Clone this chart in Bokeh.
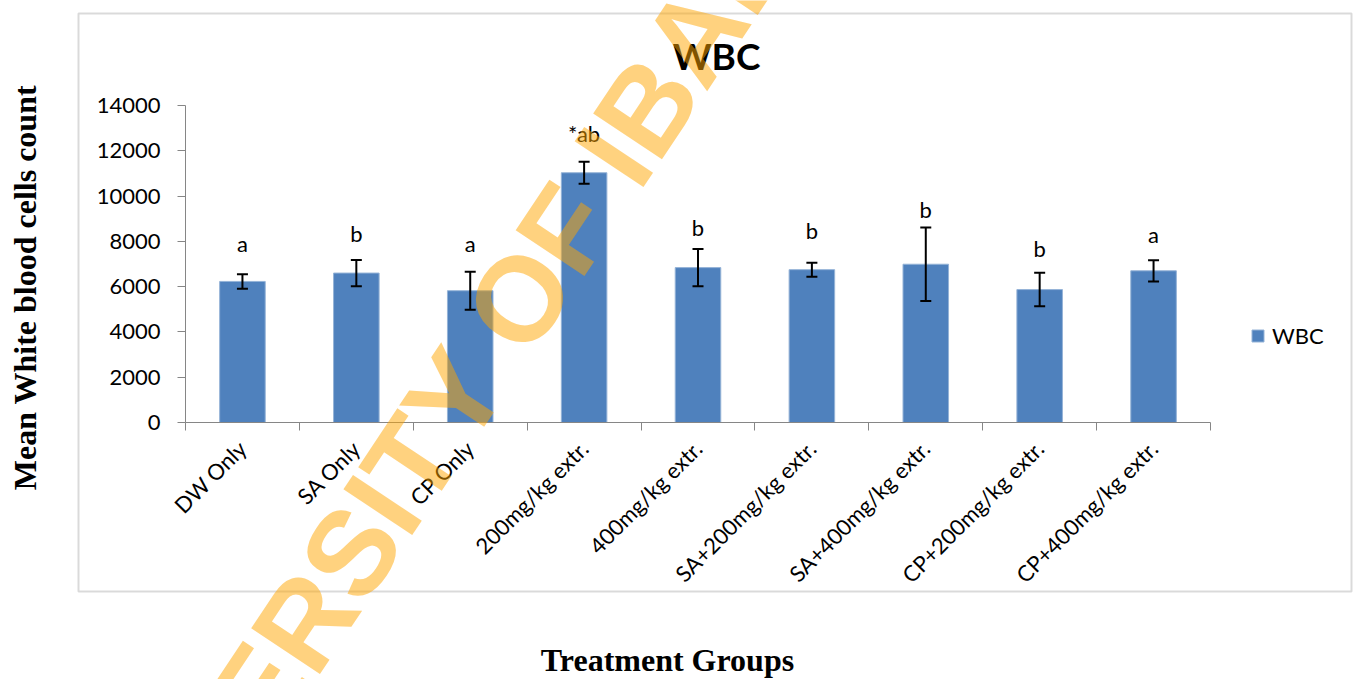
from math import pi, radians

from bokeh.plotting import figure
from bokeh.models import (Range1d, LinearAxis, FixedTicker,
                          ColumnDataSource, Whisker, TeeHead, Label, BoxAnnotation,
                          Legend, LegendItem)
from bokeh.core.properties import value
from bokeh.embed import file_html
from bokeh.resources import INLINE

# ---------------- data ----------------
groups = ["DW Only", "SA Only", "CP Only", "200mg/kg extr.", "400mg/kg extr.",
          "SA+200mg/kg extr.", "SA+400mg/kg extr.", "CP+200mg/kg extr.", "CP+400mg/kg extr."]
wbc_mean = [6230, 6600, 5820, 11030, 6840, 6750, 6990, 5870, 6700]
wbc_err = [320, 580, 840, 490, 820, 310, 1620, 740, 470]
letters = ["a", "b", "a", "*ab", "b", "b", "b", "b", "a"]
letter_y = [7900, 8350, 7900, 12750, 8600, 8500, 9400, 7680, 8300]
y_ticks = [0, 2000, 4000, 6000, 8000, 10000, 12000, 14000]

series_name = "WBC"
chart_title = "WBC"
y_title = "Mean White blood cells count"
x_title = "Treatment Groups"
watermark = "UNIVERSITY OF IBADAN"

# ---------------- style / layout ----------------
W, H = 1359, 679
BAR = "#4F81BD"
AX = "#868686"
SANS = "Lato"
SERIF = "Liberation Serif"
FS = "22px"
LEFT, RIGHT, TOP, BOTTOM = 185, 14, 105, 257     # frame borders (px)
AXIS_END_PX = 1210                               # where the category axis stops

n = len(groups)
centers = [i + 0.5 for i in range(n)]   # category slots on a 0..n axis
x_end = n * (W - LEFT - RIGHT) / (AXIS_END_PX - LEFT)   # frame extends past the axis for the legend

src = ColumnDataSource(dict(
    x=centers,
    group=groups,
    mean=wbc_mean,
    upper=[m + e for m, e in zip(wbc_mean, wbc_err)],
    lower=[m - e for m, e in zip(wbc_mean, wbc_err)],
    letter=letters,
    letter_y=letter_y,
))

# ---------------- main chart ----------------
p = figure(width=W, height=H,
           x_range=Range1d(0, x_end),
           y_range=Range1d(0, 14000),
           x_axis_type=None,
           output_backend="svg", toolbar_location=None,
           min_border_left=LEFT, min_border_right=RIGHT,
           min_border_top=TOP, min_border_bottom=BOTTOM)
p.background_fill_color = "white"
p.border_fill_color = "white"
p.outline_line_color = None
p.ygrid.visible = False

yax = p.yaxis[0]
yax.ticker = FixedTicker(ticks=y_ticks)
yax.axis_line_color = AX
yax.major_tick_line_color = AX
yax.minor_tick_line_color = None
yax.major_tick_out = 8
yax.major_tick_in = 0
yax.major_label_standoff = 17
yax.major_label_text_font = SANS
yax.major_label_text_font_size = FS
yax.major_label_text_color = "black"

# Excel-style ticks on the category boundaries
tick_axis = LinearAxis(ticker=FixedTicker(ticks=list(range(n + 1))), bounds=(0, n),
                       major_tick_out=8, major_tick_in=0,
                       major_label_text_color=None, major_label_text_font_size="1px",
                       major_label_standoff=0,
                       axis_line_color=AX, major_tick_line_color=AX,
                       minor_tick_line_color=None)
p.add_layout(tick_axis, "below")

# category names at the slot centres
cat_axis = LinearAxis(ticker=FixedTicker(ticks=centers),
                      major_label_overrides={c: g for c, g in zip(centers, groups)},
                      major_label_orientation=pi / 4,
                      axis_line_color=None, major_tick_line_color=None,
                      minor_tick_line_color=None,
                      major_label_standoff=8,
                      major_label_text_font=SANS,
                      major_label_text_font_size=FS,
                      major_label_text_color="black")
p.add_layout(cat_axis, "below")

bars = p.vbar(x="x", top="mean", width=0.4, source=src,
              fill_color=BAR, line_color="#95B3D7", line_width=1)

w = Whisker(source=src, base="x", upper="upper", lower="lower",
            line_color="black", line_width=2, level="overlay",
            upper_head=TeeHead(size=11, line_color="black", line_width=2),
            lower_head=TeeHead(size=11, line_color="black", line_width=2))
p.add_layout(w)

p.text(x="x", y="letter_y", text="letter", source=src,
       text_align="center", text_baseline="middle",
       text_font=value(SANS), text_font_size=FS, text_color="black")

legend = Legend(items=[LegendItem(label=series_name, renderers=[bars])],
                location=(1065, 73), orientation="vertical",
                glyph_width=15, glyph_height=15,
                label_text_font=SANS, label_text_font_size=FS,
                label_text_color="black",
                label_standoff=7, padding=0, margin=0, spacing=0,
                border_line_color=None, background_fill_alpha=0)
p.add_layout(legend)

# ---------------- transparent overlay (page-pixel coordinates) ----------------
ov = figure(width=W, height=H,
            x_range=Range1d(0, W), y_range=Range1d(H, 0),
            x_axis_type=None, y_axis_type=None,
            output_backend="svg", toolbar_location=None,
            min_border_left=0, min_border_right=0, min_border_top=0, min_border_bottom=0)
ov.background_fill_color = None
ov.border_fill_color = None
ov.outline_line_color = None
ov.styles = {"position": "absolute", "top": "0px", "left": "0px"}

ov.add_layout(BoxAnnotation(left=78, right=1351, top=13, bottom=591,
                            fill_color=None, line_color=AX, line_width=2))
ov.add_layout(Label(x=716, y=55, text=chart_title, text_font=SANS, text_font_style="bold",
                    text_font_size="37px", text_color="black",
                    text_align="center", text_baseline="middle"))
ov.add_layout(Label(x=24, y=287, angle=pi / 2, text=y_title, text_font=SERIF,
                    text_font_style="bold", text_font_size="32px", text_color="black",
                    text_align="center", text_baseline="middle"))
ov.add_layout(Label(x=667, y=659, text=x_title, text_font=SERIF, text_font_style="bold",
                    text_font_size="32px", text_color="black",
                    text_align="center", text_baseline="middle"))
ov.add_layout(Label(x=470, y=371, angle=radians(56.4), text=watermark,
                    text_font="Liberation Sans", text_font_style="bold",
                    text_font_size="120px", text_color="#FFA500", text_alpha=0.5,
                    text_align="center", text_baseline="middle", level="overlay"))

open("out.html", "w").write(file_html([p, ov], INLINE))
